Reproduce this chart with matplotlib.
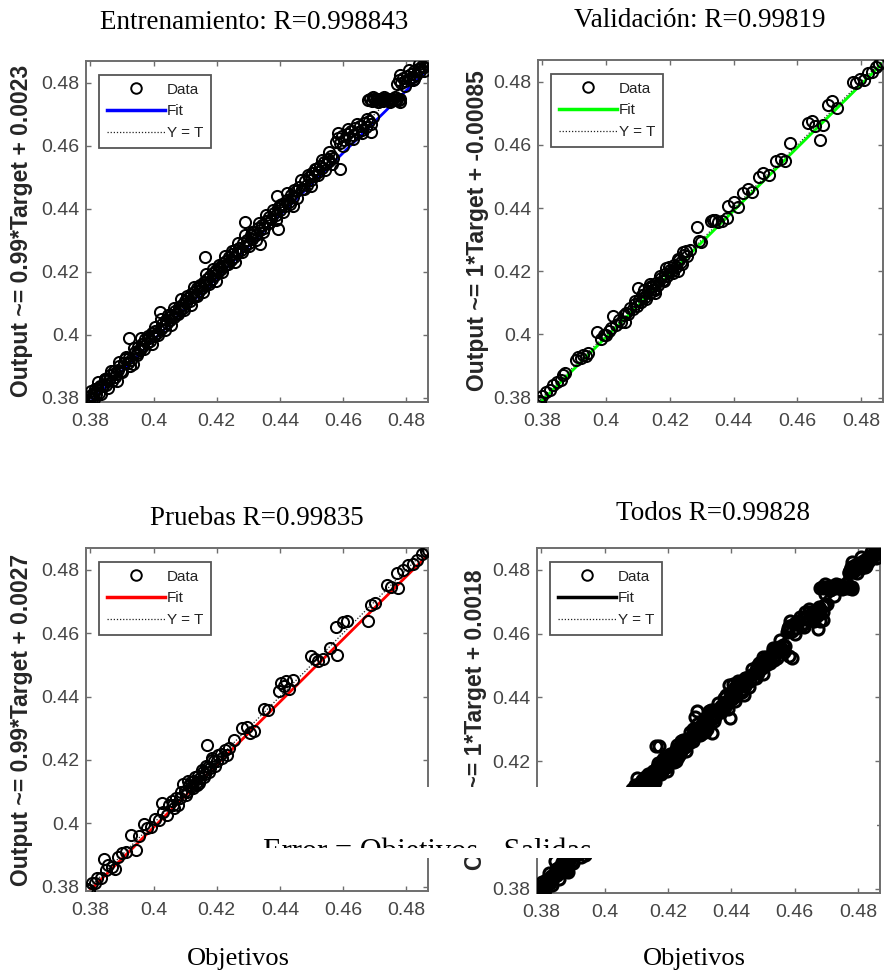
import matplotlib
matplotlib.use("Agg")
import matplotlib.pyplot as plt
from matplotlib.patches import Rectangle
from matplotlib.lines import Line2D
from matplotlib.transforms import Bbox, TransformedBbox

# ---------------- data ----------------
train_target = [
    0.3788, 0.3791, 0.3795, 0.3799, 0.3803, 0.3806, 0.3811, 0.3815, 0.3818, 0.3822,
    0.3827, 0.3831, 0.3836, 0.3840, 0.3845, 0.3849, 0.3853, 0.3858, 0.3862, 0.3867,
    0.3871, 0.3876, 0.3881, 0.3886, 0.3892, 0.3898, 0.3905, 0.3911, 0.3918, 0.3923,
    0.3929, 0.3922, 0.3940, 0.3946, 0.3936, 0.3885,
    0.3952, 0.3957, 0.3963, 0.3968, 0.3974, 0.3979, 0.3985, 0.3990, 0.3996, 0.4001,
    0.4006, 0.4011, 0.4022, 0.4027, 0.4032, 0.4038, 0.4043, 0.4048, 0.4053, 0.4058,
    0.4064, 0.4069, 0.4074, 0.4079, 0.4084, 0.4089, 0.4094, 0.4099, 0.4104, 0.4109,
    0.4114, 0.4119, 0.4124, 0.4129, 0.4134, 0.4139, 0.4144, 0.4149, 0.4154, 0.4159,
    0.4164, 0.4169, 0.4174, 0.4179, 0.4184, 0.4189, 0.4194, 0.4199, 0.4021, 0.4163,
    0.3958,
    0.4204, 0.4209, 0.4214, 0.4219, 0.4224, 0.4229, 0.4234, 0.4239, 0.4244, 0.4249,
    0.4254, 0.4259, 0.4265, 0.4271, 0.4277, 0.4283, 0.4289, 0.4295, 0.4301, 0.4307,
    0.4313, 0.4319, 0.4325, 0.4331, 0.4337, 0.4343, 0.4349, 0.4355, 0.4361, 0.4367,
    0.4373, 0.4380, 0.4387, 0.4394, 0.4401, 0.4408, 0.4415, 0.4422, 0.4429, 0.4436,
    0.4443, 0.4450, 0.4290, 0.4337, 0.4394, 0.4391, 0.4441,
    0.4462, 0.4470, 0.4478, 0.4485, 0.4491, 0.4497, 0.4503, 0.4509, 0.4515, 0.4521,
    0.4527, 0.4533, 0.4539, 0.4545, 0.4551, 0.4557, 0.4563, 0.4569, 0.4590,
    0.4578, 0.4583, 0.4590, 0.4597, 0.4604, 0.4611, 0.4618, 0.4625, 0.4632, 0.4639,
    0.4646, 0.4653, 0.4660, 0.4667, 0.4674, 0.4681, 0.4688, 0.4695,
    0.4680, 0.4686, 0.4692, 0.4698, 0.4704, 0.4710, 0.4716, 0.4722, 0.4728, 0.4734,
    0.4740, 0.4746, 0.4752, 0.4758, 0.4764, 0.4770, 0.4776, 0.4781,
    0.4772, 0.4778, 0.4784, 0.4790, 0.4796, 0.4802, 0.4808, 0.4814, 0.4820, 0.4826,
    0.4832, 0.4838, 0.4844, 0.4850, 0.4856, 0.4862, 0.4866, 0.4869, 0.4821,
    0.3802, 0.3810, 0.3824, 0.3834, 0.3846, 0.3856, 0.3866, 0.3878, 0.3889, 0.3901,
    0.3913, 0.3925, 0.3937, 0.3948, 0.3960, 0.3971, 0.3983, 0.3994, 0.4004, 0.4014,
    0.4025, 0.4035, 0.4046, 0.4056, 0.4066, 0.4077, 0.4087, 0.4097, 0.4107, 0.4117,
    0.4127, 0.4137, 0.4147, 0.4157, 0.4167, 0.4177, 0.4187, 0.4197, 0.4207, 0.4217,
    0.4227, 0.4237, 0.4247, 0.4257, 0.4268, 0.4279, 0.4290, 0.4301, 0.4312, 0.4323,
    0.4334, 0.4345, 0.4356, 0.4367, 0.4378, 0.4389, 0.4400, 0.4411, 0.4422, 0.4433,
    0.4444, 0.4455, 0.4466, 0.4477, 0.4488, 0.4499, 0.4510, 0.4521, 0.4532, 0.4543,
    0.4554, 0.4565,
    0.4585, 0.4600, 0.4615, 0.4630, 0.4645, 0.4660, 0.4675, 0.4690,
    0.4695, 0.4712, 0.4730, 0.4748, 0.4765, 0.4780,
    0.4780, 0.4795, 0.4810, 0.4825, 0.4840, 0.4855, 0.4868,
]
train_output = [
    0.3791, 0.3787, 0.3803, 0.3797, 0.3808, 0.3797, 0.3813, 0.3827, 0.3812, 0.3826,
    0.3816, 0.3838, 0.3837, 0.3837, 0.3859, 0.3841, 0.3859, 0.3856, 0.3871, 0.3852,
    0.3874, 0.3886, 0.3876, 0.3887, 0.3899, 0.3886, 0.3909, 0.3924, 0.3911, 0.3925,
    0.3919, 0.3990, 0.3945, 0.3943, 0.3906, 0.3853,
    0.3960, 0.3950, 0.3971, 0.3964, 0.3985, 0.3972, 0.3989, 0.3981, 0.4006, 0.3997,
    0.4012, 0.4004, 0.4019, 0.4034, 0.4026, 0.4045, 0.4037, 0.4057, 0.4046, 0.4062,
    0.4055, 0.4076, 0.4070, 0.4088, 0.4077, 0.4094, 0.4086, 0.4107, 0.4099, 0.4116,
    0.4107, 0.4128, 0.4118, 0.4135, 0.4126, 0.4147, 0.4139, 0.4155, 0.4147, 0.4166,
    0.4158, 0.4176, 0.4167, 0.4185, 0.4176, 0.4196, 0.4188, 0.4205, 0.4072, 0.4246,
    0.3955,
    0.4198, 0.4216, 0.4207, 0.4227, 0.4219, 0.4234, 0.4225, 0.4247, 0.4238, 0.4255,
    0.4245, 0.4268, 0.4258, 0.4276, 0.4268, 0.4291, 0.4281, 0.4302, 0.4292, 0.4316,
    0.4305, 0.4325, 0.4317, 0.4339, 0.4331, 0.4348, 0.4340, 0.4362, 0.4355, 0.4372,
    0.4366, 0.4387, 0.4380, 0.4401, 0.4396, 0.4416, 0.4408, 0.4429, 0.4421, 0.4443,
    0.4437, 0.4456, 0.4357, 0.4287, 0.4335, 0.4439, 0.4408,
    0.4470, 0.4462, 0.4487, 0.4476, 0.4500, 0.4491, 0.4512, 0.4503, 0.4525, 0.4515,
    0.4537, 0.4530, 0.4548, 0.4542, 0.4557, 0.4551, 0.4566, 0.4560, 0.4525,
    0.4612, 0.4625, 0.4607, 0.4630, 0.4617, 0.4638, 0.4625, 0.4648, 0.4635, 0.4655,
    0.4643, 0.4664, 0.4650, 0.4671, 0.4660, 0.4679, 0.4642, 0.4690,
    0.4744, 0.4748, 0.4743, 0.4747, 0.4744, 0.4749, 0.4745, 0.4747, 0.4743, 0.4748,
    0.4745, 0.4749, 0.4744, 0.4747, 0.4745, 0.4749, 0.4744, 0.4747,
    0.4795, 0.4810, 0.4800, 0.4815, 0.4805, 0.4822, 0.4811, 0.4828, 0.4818, 0.4836,
    0.4826, 0.4845, 0.4838, 0.4853, 0.4849, 0.4861, 0.4856, 0.4866, 0.4809,
    0.3822, 0.3795, 0.3850, 0.3812, 0.3860, 0.3829, 0.3884, 0.3866, 0.3913, 0.3881,
    0.3929, 0.3900, 0.3959, 0.3934, 0.3988, 0.3953, 0.3996, 0.3971, 0.4025, 0.3998,
    0.4050, 0.4014, 0.4061, 0.4030, 0.4085, 0.4064, 0.4114, 0.4078, 0.4124, 0.4093,
    0.4150, 0.4122, 0.4159, 0.4135, 0.4193, 0.4160, 0.4207, 0.4169, 0.4221, 0.4198,
    0.4251, 0.4224, 0.4265, 0.4232, 0.4290, 0.4263, 0.4317, 0.4281, 0.4327, 0.4300,
    0.4355, 0.4327, 0.4381, 0.4353, 0.4397, 0.4363, 0.4413, 0.4390, 0.4450, 0.4416,
    0.4460, 0.4433, 0.4490, 0.4462, 0.4508, 0.4472, 0.4527, 0.4508, 0.4555, 0.4524,
    0.4580, 0.4541,
    0.4640, 0.4598, 0.4652, 0.4620, 0.4668, 0.4640, 0.4685, 0.4668,
    0.4755, 0.4738, 0.4756, 0.4739, 0.4756, 0.4740,
    0.4825, 0.4790, 0.4840, 0.4812, 0.4858, 0.4838, 0.4868,
]

val_target = [
    0.3788, 0.3792, 0.3800, 0.3812, 0.3825, 0.3833, 0.3845, 0.3858, 0.3866, 0.3872,
    0.3905, 0.3912, 0.3920, 0.3928, 0.3936, 0.3942, 0.3971, 0.3985, 0.3992, 0.4000,
    0.4008, 0.4015, 0.4023, 0.4032, 0.4040, 0.4047, 0.4055, 0.4063, 0.4070, 0.4076,
    0.4083, 0.4090, 0.4096, 0.4101, 0.4104, 0.4110, 0.4117, 0.4123, 0.4130, 0.4137,
    0.4143, 0.4150, 0.4157, 0.4164, 0.4171, 0.4178, 0.4185, 0.4192, 0.4199, 0.4206,
    0.4213, 0.4220, 0.4228, 0.4236, 0.4245, 0.4253, 0.4262, 0.4286, 0.4290, 0.4298,
    0.4330, 0.4342, 0.4352, 0.4365, 0.4380, 0.4384, 0.4400, 0.4415, 0.4430, 0.4445,
    0.4458, 0.4480, 0.4492, 0.4510, 0.4532, 0.4548, 0.4560, 0.4576, 0.4632, 0.4645,
    0.4655, 0.4672, 0.4680, 0.4695, 0.4710, 0.4725, 0.4775, 0.4785, 0.4798, 0.4810,
    0.4822, 0.4835, 0.4848, 0.4858, 0.4866,
    0.4060, 0.4118, 0.4152, 0.4188, 0.4224, 0.4138, 0.4240, 0.4336,
    0.4112, 0.4126, 0.4140, 0.4154, 0.4168, 0.4182, 0.4196, 0.4210, 0.4224, 0.4238,
    0.4252, 0.4092,
]
val_output = [
    0.3790, 0.3786, 0.3804, 0.3817, 0.3823, 0.3840, 0.3849, 0.3856, 0.3870, 0.3878,
    0.3920, 0.3928, 0.3925, 0.3934, 0.3932, 0.3940, 0.4008, 0.3984, 0.3998, 0.3997,
    0.4011, 0.4019, 0.4058, 0.4031, 0.4046, 0.4039, 0.4061, 0.4068, 0.4064, 0.4083,
    0.4079, 0.4097, 0.4090, 0.4146, 0.4110, 0.4104, 0.4124, 0.4118, 0.4137, 0.4130,
    0.4150, 0.4144, 0.4163, 0.4157, 0.4178, 0.4173, 0.4192, 0.4186, 0.4205, 0.4200,
    0.4220, 0.4214, 0.4235, 0.4228, 0.4250, 0.4247, 0.4268, 0.4340, 0.4296, 0.4292,
    0.4358, 0.4362, 0.4356, 0.4360, 0.4369, 0.4406, 0.4418, 0.4405, 0.4448, 0.4460,
    0.4452, 0.4500, 0.4510, 0.4506, 0.4550, 0.4556, 0.4548, 0.4606, 0.4668, 0.4676,
    0.4660, 0.4616, 0.4664, 0.4725, 0.4738, 0.4718, 0.4800, 0.4795, 0.4810, 0.4806,
    0.4828, 0.4832, 0.4848, 0.4856, 0.4862,
    0.4040, 0.4140, 0.4130, 0.4210, 0.4200, 0.4160, 0.4262, 0.4362,
    0.4126, 0.4112, 0.4154, 0.4140, 0.4184, 0.4168, 0.4212, 0.4196, 0.4238, 0.4222,
    0.4264, 0.4106,
]

test_target = [
    0.3788, 0.3795, 0.3805, 0.3815, 0.3822, 0.3832, 0.3842, 0.3848, 0.3855, 0.3868,
    0.3879, 0.3888, 0.3900, 0.3914, 0.3927, 0.3943, 0.3955, 0.3969, 0.3980, 0.3992,
    0.4005, 0.4016, 0.4026, 0.4030, 0.4042, 0.4050, 0.4062, 0.4072, 0.4085, 0.4094,
    0.4098, 0.4106, 0.4113, 0.4120, 0.4127, 0.4134, 0.4141, 0.4148, 0.4155, 0.4162,
    0.4170, 0.4172, 0.4180, 0.4190, 0.4200, 0.4212, 0.4225, 0.4240, 0.4255, 0.4280,
    0.4296, 0.4305, 0.4318, 0.4350, 0.4362, 0.4398, 0.4405, 0.4412, 0.4420, 0.4430,
    0.4440, 0.4500, 0.4512, 0.4522, 0.4535, 0.4558, 0.4582, 0.4578, 0.4600, 0.4612,
    0.4680, 0.4690, 0.4702, 0.4740, 0.4752, 0.4775, 0.4770, 0.4790, 0.4805, 0.4820,
    0.4835, 0.4850, 0.4862, 0.4868,
    0.4110, 0.4145, 0.4185, 0.4232, 0.4076,
    0.4058, 0.4066, 0.4088, 0.4102, 0.4117, 0.4124, 0.4131, 0.4138, 0.4152, 0.4159,
    0.4166, 0.4176, 0.4186, 0.4195, 0.4205, 0.4218,
]
test_output = [
    0.3792, 0.3789, 0.3811, 0.3812, 0.3828, 0.3827, 0.3888, 0.3853, 0.3868, 0.3862,
    0.3856, 0.3893, 0.3905, 0.3909, 0.3962, 0.3915, 0.3960, 0.3998, 0.3984, 0.3988,
    0.4012, 0.4011, 0.4064, 0.4036, 0.4026, 0.4057, 0.4058, 0.4080, 0.4079, 0.4125,
    0.4103, 0.4100, 0.4121, 0.4114, 0.4134, 0.4128, 0.4149, 0.4142, 0.4162, 0.4156,
    0.4246, 0.4178, 0.4175, 0.4196, 0.4195, 0.4220, 0.4232, 0.4236, 0.4262, 0.4300,
    0.4304, 0.4285, 0.4290, 0.4360, 0.4356, 0.4418, 0.4442, 0.4432, 0.4448, 0.4424,
    0.4452, 0.4528, 0.4520, 0.4512, 0.4518, 0.4552, 0.4530, 0.4618, 0.4635, 0.4640,
    0.4640, 0.4688, 0.4694, 0.4752, 0.4745, 0.4742, 0.4790, 0.4800, 0.4815, 0.4818,
    0.4832, 0.4850, 0.4860, 0.4864,
    0.4132, 0.4128, 0.4206, 0.4214, 0.4058,
    0.4070, 0.4048, 0.4100, 0.4090, 0.4130, 0.4112, 0.4145, 0.4122, 0.4168, 0.4146,
    0.4180, 0.4162, 0.4200, 0.4182, 0.4214, 0.4206,
]

all_target = train_target + val_target + test_target
all_output = train_output + val_output + test_output

panel_titles = ["Entrenamiento: R=0.998843", "Validación: R=0.99819",
                "Pruebas R=0.99835", "Todos R=0.99828"]
fit_slope = [0.99, 1, 0.99, 1]
fit_intercept = [0.0023, -0.00085, 0.0027, 0.0018]
fit_colors = ["#0000ff", "#00ff00", "#ff0000", "#000000"]
tick_values = [0.38, 0.40, 0.42, 0.44, 0.46, 0.48]
tick_labels = ["0.38", "0.4", "0.42", "0.44", "0.46", "0.48"]
legend_labels = ["Data", "Fit", "Y = T"]
x_label = "Objetivos"
overlay_text = "Error = Objetivos - Salidas"

# ---------------- layout ----------------
W, H = 885, 973
SERIF = ["Liberation Serif", "DejaVu Serif"]
SANS = ["Liberation Sans", "DejaVu Sans"]


def fig_rect(left, top, right, bottom):
    return [left / W, 1 - bottom / H, (right - left) / W, (bottom - top) / H]


axes_px = [(86, 61, 428, 402), (538, 60, 883, 402),
           (86, 548, 428, 891), (537, 548, 880, 893)]
title_px = [(254, 29), (700, 27), (257, 525), (713, 520)]
ylabel_px = [(22, 231), (477, 231), (22, 720), (475, 720)]
xlabel_px = [None, None, (238, 965), (694, 965)]

datasets = [(train_target, train_output), (val_target, val_output),
            (test_target, test_output), (all_target, all_output)]

lo = min(min(all_target), min(all_output))
hi = max(max(all_target), max(all_output))

fig = plt.figure(figsize=(W / 100, H / 100), dpi=100)
fig.patch.set_facecolor("white")

spine_col = "#6e6e6e"
tick_col = "#454545"

for i, (tt, oo) in enumerate(datasets):
    ax = fig.add_axes(fig_rect(*axes_px[i]))
    ax.set_xlim(lo, hi)
    ax.set_ylim(lo, hi)

    # identity line, fit line, then the data on top
    ax.plot([lo, hi], [lo, hi], linestyle=(0, (1, 1.5)), color="#222222", lw=0.9, zorder=1)
    fx = [lo, hi]
    fy = [fit_slope[i] * v + fit_intercept[i] for v in fx]
    ax.plot(fx, fy, color=fit_colors[i], lw=2.0, zorder=2)
    mew = 2.2 if i == 3 else 1.45
    ax.plot(tt, oo, linestyle="none", marker="o", ms=8.0, mfc="none",
            mec="black", mew=mew, zorder=3)

    ax.set_xticks(tick_values)
    ax.set_xticklabels(tick_labels)
    ax.set_yticks(tick_values)
    ax.set_yticklabels(tick_labels)
    ax.tick_params(direction="in", top=True, right=True, length=3.5, width=1.0,
                   color=spine_col, labelcolor=tick_col, labelsize=14)
    ax.tick_params(axis="x", pad=8)
    ax.tick_params(axis="y", pad=5)
    for lab in ax.get_xticklabels() + ax.get_yticklabels():
        lab.set_fontfamily(SANS)
    for sp in ax.spines.values():
        sp.set_color(spine_col)
        sp.set_linewidth(1.4)

    handles = [
        Line2D([], [], linestyle="none", marker="o", ms=7.6, mfc="none", mec="black", mew=1.4),
        Line2D([], [], color=fit_colors[i], lw=2.5),
        Line2D([], [], color="#222222", lw=0.9, linestyle=(0, (1, 1.5))),
    ]
    l0, t0, r0, b0 = axes_px[i]
    aw, ah = r0 - l0, b0 - t0
    leg = ax.legend(handles, legend_labels, loc="upper left",
                    bbox_to_anchor=(13 / aw, 1 - 14 / ah), borderaxespad=0,
                    prop={"family": SANS, "size": 11}, handlelength=3.8,
                    handletextpad=0.15, labelspacing=0.5, borderpad=0.5,
                    fancybox=False, framealpha=1, edgecolor="#555555")
    leg.get_frame().set_linewidth(1.3)
    for txt in leg.get_texts():
        txt.set_color("#222222")

    # axis labels and panel title
    ylab = "Output ~= {:g}*Target + {:g}".format(fit_slope[i], fit_intercept[i])
    fig.text(ylabel_px[i][0] / W, 1 - ylabel_px[i][1] / H, ylab, rotation=90,
             ha="center", va="center", family=SANS, fontsize=16.5,
             fontweight="bold", color="#262626")
    fig.text(title_px[i][0] / W, 1 - title_px[i][1] / H, panel_titles[i],
             ha="center", va="baseline", family=SERIF, fontsize=19.5, color="black")
    if xlabel_px[i] is not None:
        fig.text(xlabel_px[i][0] / W, 1 - xlabel_px[i][1] / H, x_label,
                 ha="center", va="baseline", family=SERIF, fontsize=19, color="black")

# white banner with the error caption, its lower part cut off
band = (258, 787, 877, 858)
fig.add_artist(Rectangle((band[0] / W, 1 - band[3] / H), (band[2] - band[0]) / W,
                         (band[3] - band[1]) / H, transform=fig.transFigure,
                         facecolor="white", edgecolor="none", zorder=20))
cap = fig.text(263 / W, 1 - 860 / H, overlay_text, ha="left", va="baseline",
               family=SERIF, fontsize=22, color="black", zorder=21)
clip = TransformedBbox(Bbox([[band[0] / W, 1 - 848 / H], [band[2] / W, 1 - band[1] / H]]),
                       fig.transFigure)
cap.set_clip_box(clip)
cap.set_clip_on(True)

fig.savefig("out.png", dpi=100, facecolor="white")
